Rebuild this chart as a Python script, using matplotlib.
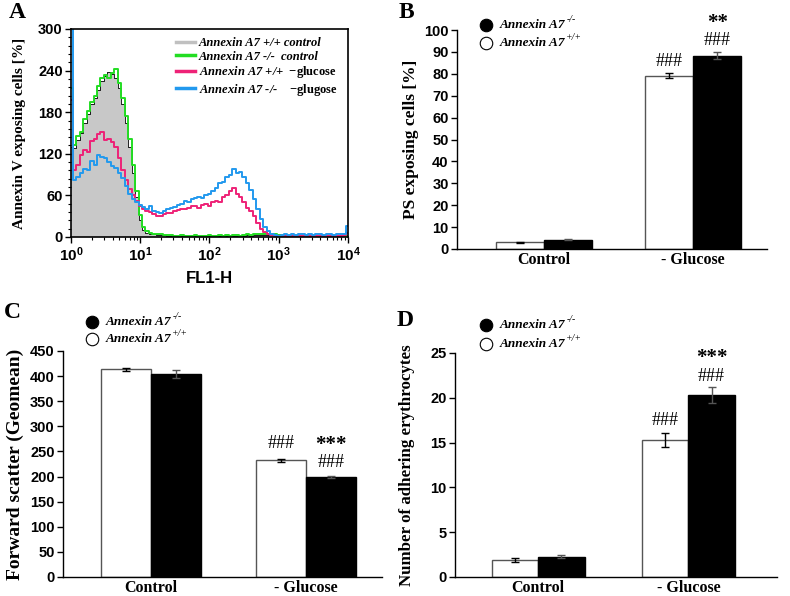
import matplotlib
matplotlib.use('Agg')
import matplotlib.pyplot as plt
import numpy as np
from matplotlib.lines import Line2D
from matplotlib.ticker import MultipleLocator, FixedLocator, NullFormatter

plt.rcParams['mathtext.fontset'] = 'custom'
plt.rcParams['mathtext.sf'] = 'Liberation Sans:bold'
plt.rcParams['mathtext.bf'] = 'Liberation Serif:bold'
plt.rcParams['mathtext.rm'] = 'Liberation Serif'
plt.rcParams['mathtext.it'] = 'Liberation Serif:italic'

# ---- panel A: FL1-H histograms (log10 channel, counts) ----
fl1_log = [0.00, 0.05, 0.10, 0.15, 0.20, 0.25, 0.30, 0.35, 0.40, 0.45,
           0.50, 0.55, 0.60, 0.65, 0.70, 0.75, 0.80, 0.85, 0.90, 0.95,
           1.00, 1.05, 1.10, 1.15, 1.20, 1.25, 1.30, 1.35, 1.40, 1.45,
           1.50, 1.55, 1.60, 1.65, 1.70, 1.75, 1.80, 1.85, 1.90, 1.95,
           2.00, 2.05, 2.10, 2.15, 2.20, 2.25, 2.30, 2.35, 2.40, 2.45,
           2.50, 2.55, 2.60, 2.65, 2.70, 2.75, 2.80, 2.85, 2.90, 2.95,
           3.00, 3.05, 3.10, 3.15, 3.20, 3.25, 3.30, 3.35, 3.40, 3.45,
           3.50, 3.55, 3.60, 3.65, 3.70, 3.75, 3.80, 3.85, 3.90, 3.95,
           4.00]
wt_control = [130, 128, 140, 150, 165, 178, 192, 200, 212, 225,
              232, 238, 235, 230, 215, 192, 165, 130, 92, 58,
              25, 10, 6, 5, 4, 3, 3, 3, 2, 2,
              2, 2, 2, 2, 2, 2, 2, 2, 2, 2,
              2, 2, 2, 2, 2, 2, 2, 2, 2, 2,
              2, 3, 2, 3, 3, 3, 3, 3, 3, 3,
              2, 1, 1, 1, 1, 1, 1, 1, 1, 1,
              1, 1, 1, 1, 1, 1, 1, 1, 1, 1,
              1]
ko_control = [215, 132, 145, 152, 170, 182, 195, 203, 218, 230,
              234, 229, 236, 243, 222, 200, 174, 142, 104, 66,
              32, 14, 8, 6, 5, 4, 4, 3, 3, 3,
              2, 2, 3, 2, 2, 2, 3, 2, 2, 2,
              3, 2, 2, 3, 2, 3, 2, 3, 3, 2,
              3, 4, 3, 4, 5, 4, 4, 5, 4, 5,
              3, 2, 1, 1, 1, 1, 1, 1, 1, 1,
              1, 1, 1, 1, 1, 1, 1, 1, 1, 1,
              1]
wt_glucose = [198, 96, 104, 118, 125, 122, 138, 142, 148, 152,
              140, 142, 137, 130, 114, 96, 82, 69, 60, 52,
              45, 41, 38, 36, 33, 31, 30, 33, 35, 34,
              37, 39, 40, 41, 42, 45, 44, 42, 46, 47,
              45, 50, 52, 50, 57, 60, 66, 71, 62, 58,
              50, 42, 38, 30, 20, 12, 7, 4, 3, 2,
              2, 2, 1, 2, 1, 2, 2, 1, 2, 2,
              1, 2, 2, 1, 2, 2, 1, 2, 2, 3,
              6]
ko_glucose = [330, 82, 86, 92, 98, 96, 110, 104, 118, 115,
              114, 108, 102, 99, 93, 85, 74, 62, 55, 50,
              46, 43, 40, 44, 38, 36, 35, 38, 40, 42,
              43, 46, 48, 52, 50, 55, 56, 58, 56, 61,
              62, 66, 70, 78, 80, 86, 90, 98, 93, 94,
              86, 78, 68, 55, 40, 26, 15, 8, 4, 3,
              2, 3, 4, 3, 4, 3, 4, 4, 3, 4,
              3, 4, 4, 3, 4, 4, 3, 4, 4, 5,
              16]
hist_labels = ['Annexin A7 +/+ control', 'Annexin A7 -/-  control',
               r'Annexin A7 +/+  $\mathbf{-glucose}$',
               r'Annexin A7 -/-    $\mathbf{-glugose}$']

# ---- panels B-D: bar charts ----
conditions = ['Control', '- Glucose']
ps_wt = [3.0, 79.2]
ps_wt_err = [0.3, 1.3]
ps_ko = [4.2, 88.3]
ps_ko_err = [0.2, 1.5]

fsc_wt = [414, 232]
fsc_wt_err = [3, 3]
fsc_ko = [405, 200]
fsc_ko_err = [8, 2]

adh_wt = [1.9, 15.3]
adh_wt_err = [0.2, 0.75]
adh_ko = [2.25, 20.3]
adh_ko_err = [0.15, 0.9]

W, H = 790, 596
serif = 'Liberation Serif'
sans = 'Liberation Sans'

fig = plt.figure(figsize=(7.9, 5.96), dpi=100)


def fx(px):
    return px / W


def fy(py):
    return 1 - py / H


# ================= A =================
axA = fig.add_axes([fx(71), fy(237), fx(277), 208 / H])
x = 10 ** np.array(fl1_log)
axA.fill_between(x, wt_control, step='mid', color='#c8c8c8', lw=0)
axA.plot(x, wt_control, drawstyle='steps-mid', color='black', lw=0.6)
colors = ['#c0c0c0', '#22dd22', '#ee2277', '#2299ee']
axA.plot(x, ko_control, drawstyle='steps-mid', color=colors[1], lw=1.4)
axA.plot(x, wt_glucose, drawstyle='steps-mid', color=colors[2], lw=1.4)
axA.plot(x, ko_glucose, drawstyle='steps-mid', color=colors[3], lw=1.4)
axA.set_xscale('log')
axA.set_xlim(1, 1e4)
axA.set_ylim(0, 300)
axA.yaxis.set_major_locator(MultipleLocator(60))
axA.yaxis.set_minor_locator(MultipleLocator(12))
axA.xaxis.set_major_locator(FixedLocator([1, 10, 100, 1000, 10000]))
axA.set_xticklabels([r'$\mathsf{10^{%d}}$' % i for i in range(5)], fontsize=11)
axA.xaxis.set_minor_formatter(NullFormatter())
for lab in axA.get_yticklabels():
    lab.set_fontname(sans)
    lab.set_fontweight('bold')
    lab.set_fontsize(10.5)
axA.tick_params(which='major', length=4, width=1, direction='out', pad=2)
axA.tick_params(which='minor', length=2.5, width=0.8, direction='out')
for s in axA.spines.values():
    s.set_linewidth(1.2)
axA.set_xlabel('FL1-H', fontname=sans, fontweight='bold', fontsize=12, labelpad=5)
axA.set_ylabel('Annexin V exposing cells [%]', fontname=serif, fontweight='bold',
               fontsize=11, labelpad=9)
handles = [Line2D([], [], color=c, lw=2.5) for c in colors]
axA.legend(handles, hist_labels, loc='upper left', bbox_to_anchor=(0.38, 0.96),
           frameon=False, handlelength=1.5, handletextpad=0.3, labelspacing=0.12,
           borderaxespad=0, borderpad=0,
           prop={'family': serif, 'weight': 'bold', 'style': 'italic', 'size': 9})


# ================= bar panels =================
def bar_panel(rect, wt, wt_err, ko, ko_err, ymax, ystep, xlim, width, ylabel, ylsize, ylpad):
    ax = fig.add_axes(rect)
    pos = np.arange(len(conditions))
    ax.bar(pos - width / 2, wt, width, color='white', edgecolor='#555555', lw=1.0,
           yerr=wt_err, capsize=3, error_kw={'elinewidth': 1, 'capthick': 1})
    ax.bar(pos + width / 2, ko, width, color='black', edgecolor='black', lw=1.0,
           yerr=ko_err, capsize=3, error_kw={'elinewidth': 1, 'capthick': 1, 'ecolor': '#555555'})
    ax.set_xlim(*xlim)
    ax.set_ylim(0, ymax)
    ax.yaxis.set_major_locator(MultipleLocator(ystep))
    ax.set_xticks(pos)
    ax.set_xticklabels(conditions, fontname=serif, fontweight='bold', fontsize=11.5)
    ax.tick_params(axis='x', length=0, pad=2)
    ax.tick_params(axis='y', length=4, width=1, direction='out', pad=2)
    for lab in ax.get_yticklabels():
        lab.set_fontname(sans)
        lab.set_fontweight('bold')
        lab.set_fontsize(10.5)
    ax.spines['top'].set_visible(False)
    ax.spines['right'].set_visible(False)
    ax.spines['left'].set_linewidth(1.0)
    ax.spines['bottom'].set_linewidth(1.0)
    ax.set_ylabel(ylabel, fontname=serif, fontweight='bold', fontsize=ylsize, labelpad=ylpad)
    return ax, pos


def legend_bcd(x0, y0, dy):
    for k, (fc, sup) in enumerate([('black', '-/-'), ('white', '+/+')]):
        yy = y0 + k * dy
        fig.add_artist(Line2D([fx(x0)], [fy(yy)], marker='o', ms=9, mfc=fc,
                              mec='black', mew=0.8, ls='none'))
        t = fig.text(fx(x0 + 14), fy(yy), 'Annexin A7', fontname=serif,
                     fontweight='bold', fontstyle='italic', fontsize=9.5, va='center')
        fig.add_artist(matplotlib.text.Annotation(
            sup, xy=(1.0, 0.6), xycoords=t, xytext=(0.5, 0),
            textcoords='offset points', fontname=serif, fontstyle='italic',
            fontsize=7, va='bottom', ha='left'))


def mark(ax, xpos, y, s, kind='hash'):
    if kind == 'hash':
        ax.text(xpos, y, s, ha='center', va='center', fontname=serif, fontsize=13,
                clip_on=False)
    else:
        ax.text(xpos, y, s, ha='center', va='center', fontname=serif,
                fontweight='bold', fontsize=15, clip_on=False)


# B
axB, pB = bar_panel([fx(457), fy(249), fx(310), 219 / H], ps_wt, ps_wt_err, ps_ko, ps_ko_err,
                    100, 10, (-0.584, 1.497), 0.325, 'PS exposing cells [%]', 12.5, 4)
mark(axB, pB[1] - 0.1625, 85.4, '###')
mark(axB, pB[1] + 0.1625, 95.4, '###')
mark(axB, pB[1] + 0.1625, 103.0, '**', 'star')
legend_bcd(486, 25, 18)

# C
axC, pC = bar_panel([fx(63), fy(577), fx(319), 226 / H], fsc_wt, fsc_wt_err, fsc_ko, fsc_ko_err,
                    450, 50, (-0.57, 1.49), 0.323, 'Forward scatter (Geomean)', 14, 4)
mark(axC, pC[1] - 0.1615, 265, '###')
mark(axC, pC[1] + 0.1615, 263, '***', 'star')
mark(axC, pC[1] + 0.1615, 227, '###')
legend_bcd(92, 322, 17)

# D
axD, pD = bar_panel([fx(455), fy(577), fx(322), 224 / H], adh_wt, adh_wt_err, adh_ko, adh_ko_err,
                    25, 5, (-0.553, 1.59), 0.31, 'Number of adhering erythrocytes', 12.2, 11)
mark(axD, pD[1] - 0.155, 17.5, '###')
mark(axD, pD[1] + 0.155, 22.4, '###')
mark(axD, pD[1] + 0.155, 24.4, '***', 'star')
legend_bcd(486, 325, 19)

# panel letters
for letter, (px, py) in zip('ABCD', [(17, 13), (406, 13), (12, 313), (405, 320)]):
    fig.text(fx(px), fy(py), letter, fontname=serif, fontweight='bold', fontsize=17,
             ha='center', va='center')

fig.savefig('out.png', dpi=100)
